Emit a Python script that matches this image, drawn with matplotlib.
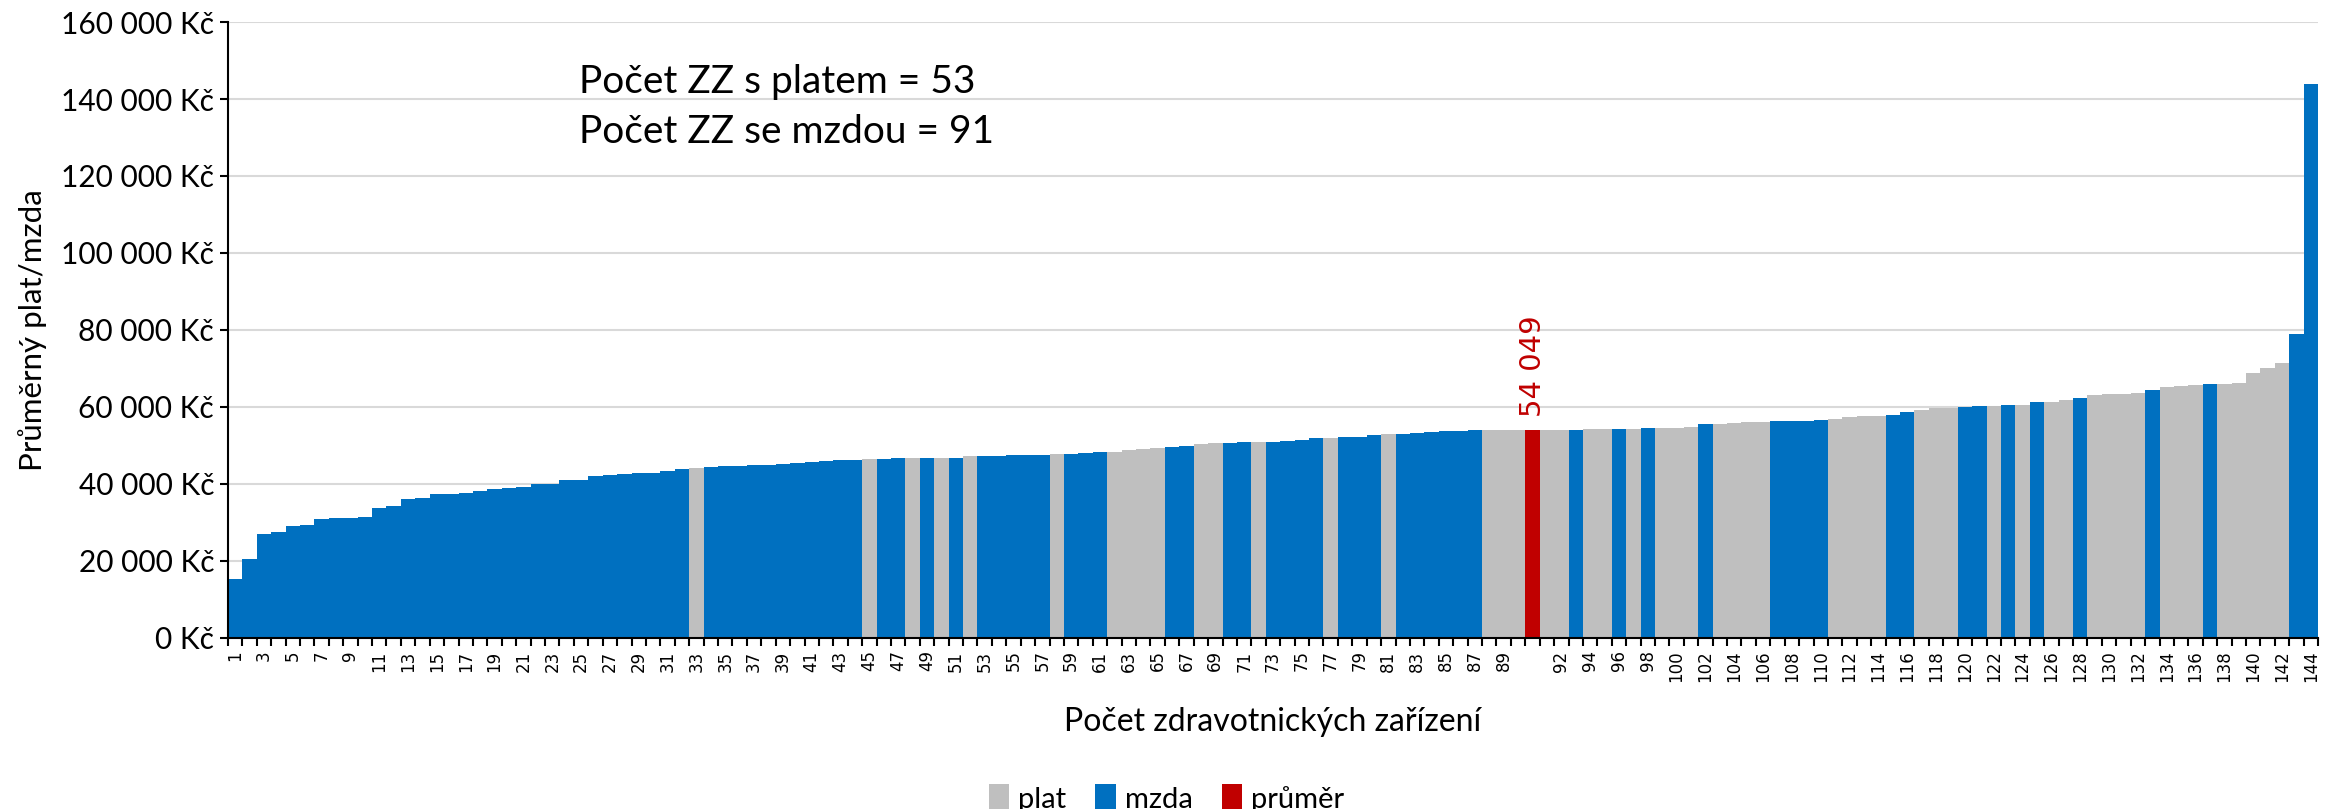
import numpy as np
import matplotlib
matplotlib.use("Agg")
import matplotlib.pyplot as plt
from matplotlib.ticker import FuncFormatter

# average salary per facility, sorted ascending (Kč)
values = [
    15440, 20570, 26980, 27420, 28980, 29240, 30890, 31070, 31250, 31410,
    33750, 34370, 36200, 36360, 37320, 37450, 37550, 38280, 38800, 38880,
    39320, 39920, 40100, 41040, 41140, 42080, 42440, 42520, 42780, 42960,
    43380, 43830, 44160, 44420, 44600, 44780, 44830, 45050, 45100, 45570,
    45730, 45990, 46170, 46350, 46430, 46520, 46690, 46700, 46720, 46780,
    46870, 47210, 47300, 47380, 47400, 47560, 47580, 47730, 47910, 48080,
    48250, 48340, 48930, 49100, 49370, 49500, 49820, 50330, 50600, 50770,
    50860, 50940, 50950, 51120, 51470, 51900, 51990, 52080, 52250, 52680,
    52860, 53030, 53290, 53460, 53640, 53810, 53900, 53960, 54000, 54030,
    54070, 54090, 54150, 54170, 54190, 54260, 54290, 54450, 54500, 54580,
    54700, 55650, 55700, 55900, 56050, 56150, 56250, 56330, 56350, 56650,
    56850, 57280, 57550, 57720, 57900, 58650, 59100, 59780, 59800, 59970,
    60140, 60220, 60450, 60580, 61230, 61350, 61800, 62300, 63000, 63250,
    63270, 63700, 64450, 65300, 65420, 65800, 65870, 65980, 66300, 68700,
    70100, 71500, 78900, 144000,
]

# P = plat, M = mzda (same order as values)
types = (
    "MMMMMMMMMM" "MMMMMMMMMM" "MMMMMMMMMM" "MMPMMMMMMM" "MMMMPMMPMP"
    "MPMMMMMPMM" "MPPPPMMPPM" "MPMMMMPMMM" "PMMMMMMPPP" "PPMPPMPMPP"
    "PMPPPPMMMM" "PPPPMMPPPM" "MPMPMPPMPP" "PPMPPPMPPP" "PPMM"
)

average = 54049
avg_after = 90  # red bar is inserted after facility no. 90

plat_color = "#bfbfbf"
mzda_color = "#0070c0"
avg_color = "#c00000"

# positions on the axis (red bar takes one slot)
pos = [i + 1 if i < avg_after else i + 2 for i in range(len(values))]
avg_pos = avg_after + 1
tick_labels = [str(i) for i in range(1, avg_after + 1)] + [""] + \
              [str(i) for i in range(avg_after + 1, len(values) + 1)]

fig = plt.figure(figsize=(23.33, 8.09), dpi=100)
ax = fig.add_axes([0.0977, 0.2114, 0.8959, 0.7614])

plat_x = [p for p, t in zip(pos, types) if t == "P"]
plat_y = [v for v, t in zip(values, types) if t == "P"]
mzda_x = [p for p, t in zip(pos, types) if t == "M"]
mzda_y = [v for v, t in zip(values, types) if t == "M"]

ax.bar(plat_x, plat_y, width=1.0, color=plat_color, label="plat", zorder=2)
ax.bar(mzda_x, mzda_y, width=1.0, color=mzda_color, label="mzda", zorder=2)
ax.bar([avg_pos], [average], width=1.0, color=avg_color, label="průměr", zorder=2)

ax.text(avg_pos + 0.05, average + 3300, "54 049", rotation=90, color=avg_color,
        ha="center", va="bottom", fontsize=21, family="DejaVu Sans")

n = len(tick_labels)
ax.set_xlim(0.5, n + 0.5)
ax.set_ylim(0, 160000)
ax.set_yticks(np.arange(0, 160001, 20000))
ax.yaxis.set_major_formatter(FuncFormatter(lambda v, p: f"{int(v):,} Kč".replace(",", " ")))
ax.grid(axis="y", color="#d9d9d9", linewidth=1.5, zorder=0)
ax.set_axisbelow(True)

odd = np.arange(1, n + 1, 2)
ax.set_xticks(odd)
ax.set_xticklabels([tick_labels[i - 1] for i in odd], rotation=90, fontsize=12,
                   family="DejaVu Sans")
ax.set_xticks(np.arange(0.5, n + 1, 1), minor=True)
ax.tick_params(axis="x", which="major", length=0, pad=9)
ax.tick_params(axis="x", which="minor", length=6, width=1.5, direction="out")
ax.tick_params(axis="y", length=6, width=1.5, direction="out", labelsize=21.5, pad=4)
for lab in ax.get_yticklabels():
    lab.set_family("Lato")

for s in ["top", "right"]:
    ax.spines[s].set_visible(False)
ax.spines["left"].set_linewidth(1.5)
ax.spines["bottom"].set_linewidth(1.5)

ax.set_ylabel("Průměrný plat/mzda", fontsize=22.5, family="Lato", labelpad=10)
ax.set_xlabel("Počet zdravotnických zařízení", fontsize=23, family="Lato", labelpad=18)

ax.text(0.168, 0.862, "Počet ZZ s platem = 53\nPočet ZZ se mzdou = 91",
        transform=ax.transAxes, fontsize=28, family="Lato", va="center",
        linespacing=1.45)

ax.legend(loc="center", bbox_to_anchor=(0.5, 0.013), bbox_transform=fig.transFigure,
          ncol=3, frameon=False, prop={"family": "Lato", "size": 21},
          handlelength=0.7, handleheight=1.0, handletextpad=0.3, columnspacing=1.0)

fig.savefig("out.png", dpi=100)
